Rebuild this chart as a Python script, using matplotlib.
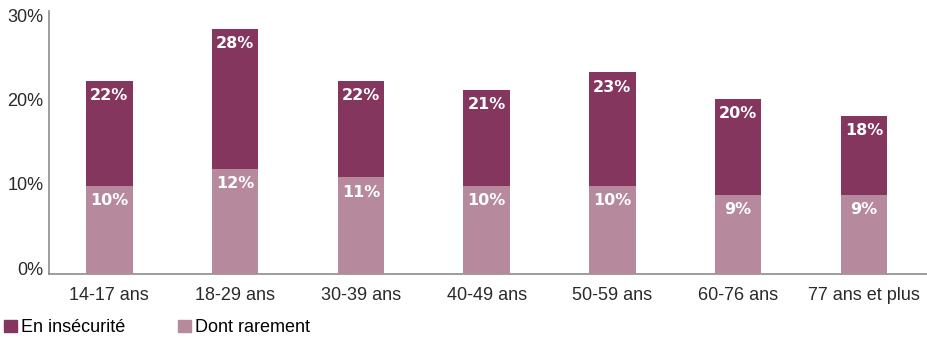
import numpy as np
import matplotlib.pyplot as plt
import matplotlib.transforms as mtransforms
from matplotlib.patches import Patch

categories = ['14-17 ans', '18-29 ans', '30-39 ans', '40-49 ans', '50-59 ans', '60-76 ans', '77 ans et plus']
insecurite = [22, 28, 22, 21, 23, 20, 18]
rarement = [10, 12, 11, 10, 10, 9, 9]

dark = '#84365f'
light = '#b68a9c'
grey = '#8c8c8c'

fig = plt.figure(figsize=(9.28, 3.39), dpi=100)
ax = fig.add_axes([49 / 928, 1 - 273.5 / 339, 1 - 49 / 928, 262.5 / 339])

x = np.arange(len(categories))
w = 0.37
ax.bar(x, insecurite, width=w, color=dark, zorder=2)
ax.bar(x, rarement, width=w, color=light, zorder=3)

# labels a bit below the top of each bar
for vals in (insecurite, rarement):
    for xi, v in zip(x, vals):
        ax.text(xi, v - 1.7, f'{v}%', ha='center', va='center', color='white',
                fontsize=11.5, fontweight='bold', family='DejaVu Sans', zorder=4)

ax.set_xlim(-0.48, 6.51)
ax.set_ylim(0, 30)
ax.set_yticks([0, 10, 20, 30])
ax.set_yticklabels(['0%', '10%', '20%', '30%'])
ax.set_xticks(x)
ax.set_xticklabels(categories)
ax.tick_params(length=0, labelsize=13, colors='#2a2a2a')
ax.tick_params(axis='x', pad=10)
ax.tick_params(axis='y', pad=4)
for lab in ax.get_xticklabels() + ax.get_yticklabels():
    lab.set_family('Liberation Sans')

# y labels in the original sit slightly squeezed toward the middle
shifts = [5, 2, -1.5, -4.5]
for lab, d in zip(ax.get_yticklabels(), shifts):
    lab.set_transform(lab.get_transform() + mtransforms.ScaledTranslation(0, d / 100, fig.dpi_scale_trans))

for s in ['top', 'right']:
    ax.spines[s].set_visible(False)
for s in ['left', 'bottom']:
    ax.spines[s].set_color(grey)
    ax.spines[s].set_linewidth(1.2)

handles = [Patch(color=dark, label='En insécurité'), Patch(color=light, label='Dont rarement')]
fig.legend(handles=handles, loc='lower left', bbox_to_anchor=(-0.011, -0.035), ncol=2,
           frameon=False, handlelength=0.7, handleheight=0.7, handletextpad=0.25,
           columnspacing=2.9, borderpad=0.3, prop={'family': 'Liberation Sans', 'size': 13})

fig.savefig('out.png', dpi=100)
